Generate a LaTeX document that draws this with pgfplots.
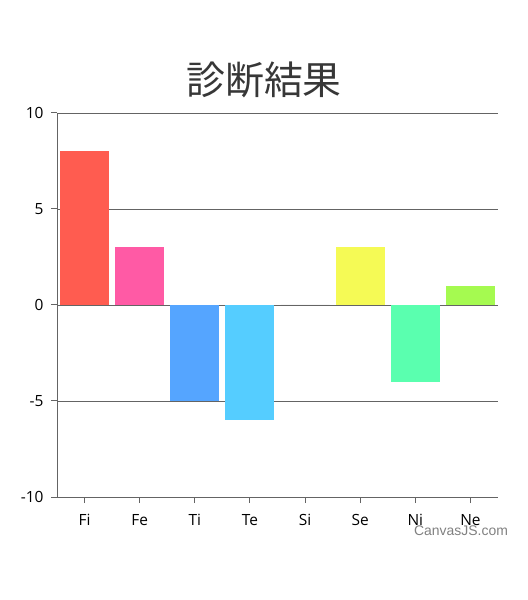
\documentclass[border=0pt]{standalone}
\usepackage{fontspec}
\setmainfont{Open Sans}
\newfontfamily\cjk{Noto Sans CJK JP}
\newfontfamily\wm{Liberation Sans}
\usepackage{pgfplots}
\pgfplotsset{compat=1.18}

\definecolor{cFi}{RGB}{255,92,80}
\definecolor{cFe}{RGB}{255,90,165}
\definecolor{cTi}{RGB}{85,165,255}
\definecolor{cTe}{RGB}{85,205,255}
\definecolor{cSi}{RGB}{200,200,200}
\definecolor{cSe}{RGB}{245,250,85}
\definecolor{cNi}{RGB}{90,255,175}
\definecolor{cNe}{RGB}{165,250,80}
\definecolor{gridc}{RGB}{100,100,100}
\definecolor{titlec}{RGB}{55,55,55}

\begin{document}
\begin{tikzpicture}
\useasboundingbox (-57bp,-103bp) rectangle (471bp,497bp);
\begin{axis}[
    at={(0,0)}, anchor=south west,
    scale only axis,
    width=441bp, height=384bp,
    xmin=-0.5, xmax=7.5,
    ymin=-10, ymax=10,
    xtick={0,1,2,3,4,5,6,7},
    xticklabels={Fi,Fe,Ti,Te,Si,Se,Ni,Ne},
    ytick={-10,-5,0,5,10},
    axis x line*=bottom, axis y line*=left,
    axis line style={-, draw=gridc, line width=1bp},
    tick pos=left, tick align=outside,
    major tick length=6bp,
    tick style={draw=gridc, line width=1bp},
    ymajorgrids,
    grid style={draw=gridc, line width=0.8bp},
    ticklabel style={font=\fontsize{15.5}{18}\selectfont, text=black},
    /pgf/number format/assume math mode=true,
    yticklabel style={xshift=-4bp},
    xticklabel style={yshift=-8bp},
    ybar, bar width=49bp,
]
\addplot[fill=cFi, draw=none, bar shift=0pt] coordinates {(0,8)};
\addplot[fill=cFe, draw=none, bar shift=0pt] coordinates {(1,3)};
\addplot[fill=cTi, draw=none, bar shift=0pt] coordinates {(2,-5)};
\addplot[fill=cTe, draw=none, bar shift=0pt] coordinates {(3,-6)};
\addplot[fill=cSi, draw=none, bar shift=0pt] coordinates {(4,0)};
\addplot[fill=cSe, draw=none, bar shift=0pt] coordinates {(5,3)};
\addplot[fill=cNi, draw=none, bar shift=0pt] coordinates {(6,-4)};
\addplot[fill=cNe, draw=none, bar shift=0pt] coordinates {(7,1)};
\end{axis}
\node[text=titlec, anchor=center] at (207bp,417bp) {\cjk\fontsize{39}{42}\selectfont 診断結果};
\node[text=black!50, anchor=center] at (404bp,-34bp) {\wm\fontsize{14}{16}\selectfont CanvasJS.com};
\end{tikzpicture}
\end{document}
